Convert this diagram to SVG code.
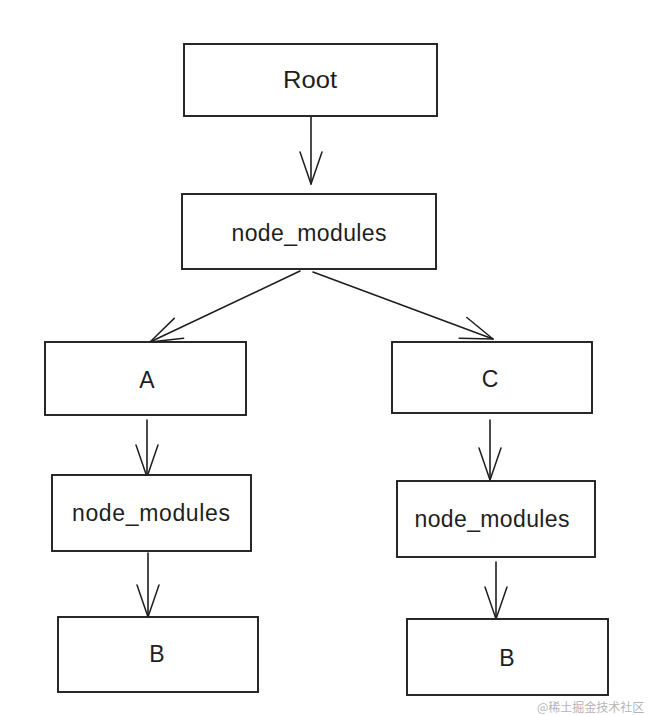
<svg xmlns="http://www.w3.org/2000/svg" width="650" height="715" viewBox="0 0 650 715">
<defs>
<marker id="ah" markerUnits="userSpaceOnUse" markerWidth="70" markerHeight="70" viewBox="-35 -35 70 70" refX="0" refY="0" orient="auto" overflow="visible">
<path d="M-32,-11 L0,0 L-32,11" fill="none" stroke="#1e1e1e" stroke-width="1.5" stroke-linecap="round" stroke-linejoin="round"/>
</marker>
</defs>
<style>
.box{fill:#ffffff;stroke:#1e1e1e;stroke-width:1.9;}
.lbl{font-family:"Liberation Sans","Noto Sans",sans-serif;font-size:23px;fill:#1e1e1e;text-anchor:middle;}
.edge{fill:none;stroke:#1e1e1e;stroke-width:1.6;stroke-linecap:round;marker-end:url(#ah);}
.wm{font-family:"Noto Sans CJK SC","Noto Sans",sans-serif;font-size:12px;fill:#b5b5b5;}
</style>
<rect width="650" height="715" fill="#ffffff"/>
<g id="connectors">
<path class="edge" d="M311,117 L311,184"/>
<path class="edge" d="M300,271 L150,342"/>
<path class="edge" d="M313,272 L493,339"/>
<path class="edge" d="M147,420 L147,477"/>
<path class="edge" d="M490,420 L490,480"/>
<path class="edge" d="M148,553 L148,617"/>
<path class="edge" d="M496,562 L496,619"/>
</g>
<g id="root">
<rect class="box" x="184" y="44" width="253" height="72"/>
<text class="lbl" x="310" y="88" textLength="54" lengthAdjust="spacingAndGlyphs">Root</text>
</g>
<g id="nm_top">
<rect class="box" x="182" y="194" width="254" height="75"/>
<text class="lbl" x="309" y="241" textLength="155" lengthAdjust="spacing">node_modules</text>
</g>
<g id="a">
<rect class="box" x="45" y="342" width="201" height="73"/>
<text class="lbl" x="147" y="388">A</text>
</g>
<g id="c">
<rect class="box" x="392" y="342" width="200" height="71"/>
<text class="lbl" x="490" y="387">C</text>
</g>
<g id="nm_a">
<rect class="box" x="52" y="475" width="199" height="76"/>
<text class="lbl" x="151" y="521" textLength="158" lengthAdjust="spacing">node_modules</text>
</g>
<g id="nm_c">
<rect class="box" x="397" y="481" width="198" height="76"/>
<text class="lbl" x="492" y="527" textLength="155" lengthAdjust="spacing">node_modules</text>
</g>
<g id="b_a">
<rect class="box" x="58" y="617" width="200" height="75"/>
<text class="lbl" x="157" y="662">B</text>
</g>
<g id="b_c">
<rect class="box" x="407" y="619" width="201" height="76"/>
<text class="lbl" x="507" y="666">B</text>
</g>
<text class="wm" x="537" y="712">@稀土掘金技术社区</text>
</svg>
